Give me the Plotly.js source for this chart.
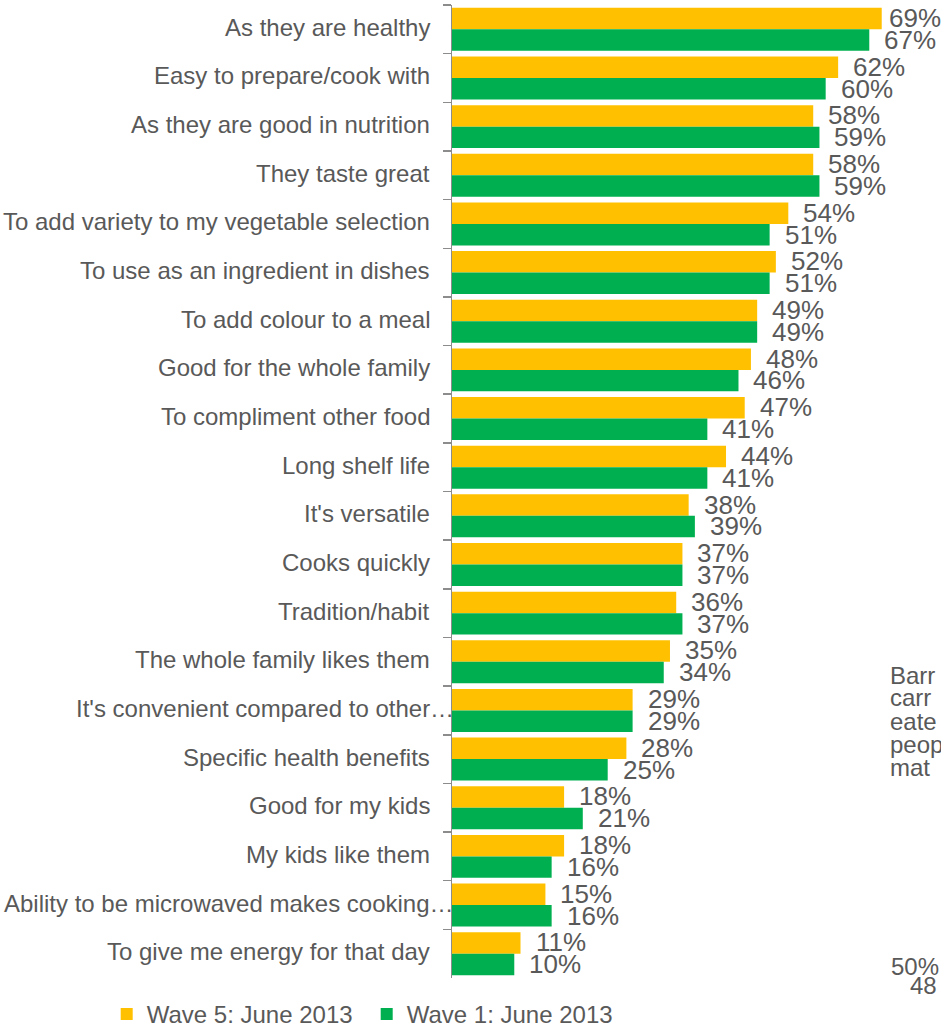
<!DOCTYPE html>
<html>
<head>
<meta charset="utf-8">
<script src="https://cdn.plot.ly/plotly-3.0.1.min.js"></script>
<style>
  html, body { margin: 0; padding: 0; background: #ffffff; }
  #chart { width: 941px; height: 1028px; }
</style>
</head>
<body>
<div id="chart"></div>
<script>
// ---- data ----
const categories = [
  "As they are healthy",
  "Easy to prepare/cook with",
  "As they are good in nutrition",
  "They taste great",
  "To add variety to my vegetable selection",
  "To use as an ingredient in dishes",
  "To add colour to a meal",
  "Good for the whole family",
  "To compliment other food",
  "Long shelf life",
  "It's versatile",
  "Cooks quickly",
  "Tradition/habit",
  "The whole family likes them",
  "It's convenient compared to other…",
  "Specific health benefits",
  "Good for my kids",
  "My kids like them",
  "Ability to be microwaved makes cooking…",
  "To give me energy for that day"
];
const wave5Name = "Wave 5: June 2013";
const wave1Name = "Wave 1: June 2013";
const wave5 = [69, 62, 58, 58, 54, 52, 49, 48, 47, 44, 38, 37, 36, 35, 29, 28, 18, 18, 15, 11];
const wave1 = [67, 60, 59, 59, 51, 51, 49, 46, 41, 41, 39, 37, 37, 34, 29, 25, 21, 16, 16, 10];
// clipped text from a neighbouring element, visible at the right edge
const sideLines = ["Barr", "carr", "eate", "peop", "mat"];
const sideNumbers = ["50%", "48"];

// ---- layout geometry ----
const W = 941, H = 1028;
const L = 452, T = 4.5, B = 978;
const plotW = W - L, plotH = B - T;
const pxPerUnit = 6.228;
const xMax = plotW / pxPerUnit;
const px2x = px => (px - L) / plotW;
const px2y = py => (B - py) / plotH;
const cx = px => px / W;          // container x
const cy = py => (H - py) / H;    // container y

const GRAY = "#595959";
const FONT = "Liberation Sans, Arial, sans-serif";

const traces = [
  {
    type: "bar", orientation: "h", name: wave5Name, legend: "legend",
    y: categories, x: wave5,
    marker: { color: "#FFC000" },
    hoverinfo: "none"
  },
  {
    type: "bar", orientation: "h", name: wave1Name, legend: "legend2",
    y: categories, x: wave1,
    marker: { color: "#00B050" },
    hoverinfo: "none"
  }
];

const annotations = [];
// category labels
categories.forEach(c => {
  const truncated = c.endsWith("…");
  annotations.push({
    x: 0, xref: "paper", y: c, yref: "y",
    xanchor: "right", yanchor: "middle",
    xshift: truncated ? 4 : -20, yshift: 2,
    text: c, showarrow: false,
    font: { family: FONT, size: 24, color: GRAY }
  });
});
// value labels
function addValueLabels(vals, cats, yshift) {
  vals.forEach((v, i) => {
    const room = (xMax - v) * pxPerUnit;
    const fits = room >= 68;
    annotations.push({
      x: fits ? v : 1, xref: fits ? "x" : "paper",
      y: cats[i], yref: "y",
      xanchor: fits ? "left" : "right", yanchor: "middle",
      xshift: fits ? 13 : 2, yshift: yshift,
      text: v + "%", showarrow: false,
      font: { family: FONT, size: 26, color: GRAY }
    });
  });
}
addValueLabels(wave5, categories, 11.3);
addValueLabels(wave1, categories, -10.6);

// side fragments
const sideY = [675.4, 697.8, 721, 744.4, 767.4];
sideLines.forEach((t, i) => {
  annotations.push({
    x: px2x(887.5), xref: "paper", y: px2y(sideY[i]), yref: "paper",
    xanchor: "left", yanchor: "middle", text: t, showarrow: false,
    font: { family: FONT, size: 24, color: GRAY }
  });
});
const numPos = [[889, 966], [907.5, 985.3]];
sideNumbers.forEach((t, i) => {
  annotations.push({
    x: px2x(numPos[i][0]), xref: "paper", y: px2y(numPos[i][1]), yref: "paper",
    xanchor: "left", yanchor: "middle", text: t, showarrow: false,
    font: { family: FONT, size: 24, color: GRAY }
  });
});

const legendBase = {
  orientation: "h", xref: "container", yref: "container",
  xanchor: "left", yanchor: "top", y: cy(992),
  font: { family: FONT, size: 24, color: GRAY },
  itemwidth: 30, bgcolor: "rgba(0,0,0,0)", borderwidth: 0
};

const layout = {
  width: W, height: H,
  margin: { l: L, r: 0, t: T, b: H - B, pad: 0 },
  paper_bgcolor: "#ffffff", plot_bgcolor: "#ffffff",
  barmode: "group", bargap: 0.117, bargroupgap: 0,
  font: { family: FONT, color: GRAY, size: 24 },
  showlegend: true,
  legend: Object.assign({}, legendBase, { x: cx(106.7) }),
  legend2: Object.assign({}, legendBase, { x: cx(366.7) }),
  xaxis: {
    range: [0, xMax], showgrid: false, zeroline: false,
    showline: false, showticklabels: false, ticks: ""
  },
  yaxis: {
    type: "category", range: [categories.length - 0.5, -0.5],
    showgrid: false, zeroline: false,
    showline: true, linecolor: "#8c8c8c", linewidth: 1.5,
    ticks: "outside", tickson: "boundaries", ticklen: 8,
    tickcolor: "#8c8c8c", tickwidth: 1.5,
    showticklabels: false
  },
  annotations: annotations
};

Plotly.newPlot("chart", traces, layout, { displayModeBar: false, staticPlot: true });
</script>
</body>
</html>
